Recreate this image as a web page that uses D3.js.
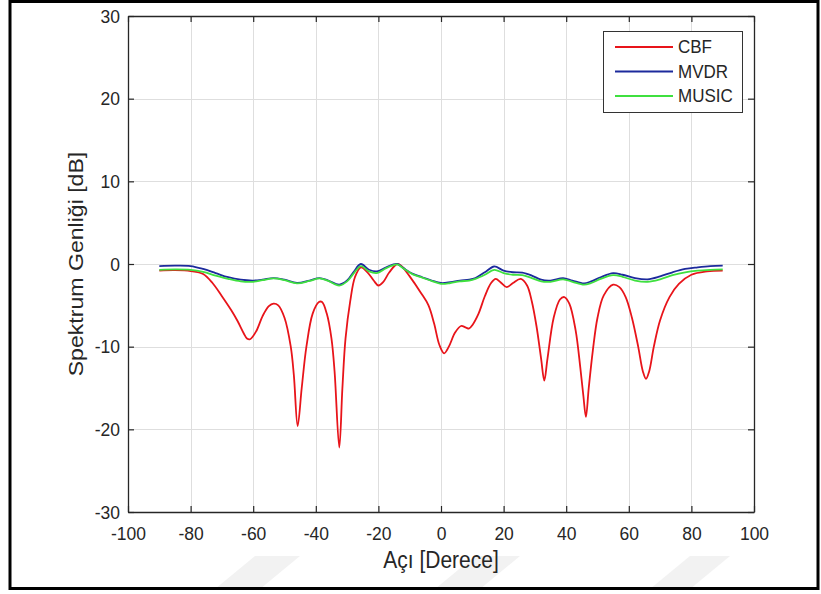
<!DOCTYPE html>
<html>
<head>
<meta charset="utf-8">
<script src="https://cdn.jsdelivr.net/npm/d3@7"></script>
<style>
  html, body { margin: 0; padding: 0; background: #fff; }
  svg { display: block; }
  text { font-family: "Liberation Sans", Arial, sans-serif; fill: #262626; }
</style>
</head>
<body>
<svg id="chart" width="821" height="594"></svg>
<script>
// ---------- data ----------
const xTicks = [-100, -80, -60, -40, -20, 0, 20, 40, 60, 80, 100];
const yTicks = [-30, -20, -10, 0, 10, 20, 30];
const seriesNames = ["CBF", "MVDR", "MUSIC"];
const seriesColors = ["#e8141a", "#1c2a9c", "#3fe03f"];

const cbfAngle = [-90,-85,-80,-76,-73,-70,-67,-65,-63,-62,-61,-59,-57,-55,-53.5,-52,-50,-48,-47,-45.8,-44.5,-43,-41,-39,-38,-36.5,-35,-34,-32.5,-31.5,-30.5,-29,-27.5,-25.6,-23.5,-21.5,-20,-18.5,-16.5,-14,-12.5,-10,-6.4,-4,-2.2,-0.5,1,2.5,4.5,6.4,8,9,10,12,14,16,17.5,19,21,23,25.5,27.5,29,30.5,32,33,34,36,38,39.4,41,43,44.5,45.5,46.3,47.2,48.5,50,52,55,57,59,61,63,64.5,65.5,66.5,68,70,73,76,80,85,90];
const cbfDb    = [-0.8,-0.75,-0.85,-1.2,-2.3,-3.9,-5.6,-6.9,-8.4,-9.0,-9.1,-8.1,-6.3,-5.1,-4.8,-5.0,-6.5,-10,-13.5,-19.6,-15,-10,-6,-4.6,-4.6,-6,-9,-13,-22.2,-15,-9,-4.5,-1.6,-0.4,-1.0,-2.0,-2.6,-2.2,-1.0,0,-0.3,-1.5,-3.5,-5.0,-7.2,-9.8,-10.8,-10.0,-8.3,-7.5,-7.7,-7.8,-7.4,-6.0,-3.9,-2.3,-1.8,-2.2,-2.8,-2.3,-1.8,-2.6,-4.5,-7.5,-11.5,-14.1,-11.5,-6.5,-4.3,-4.0,-4.8,-8.0,-12.5,-16,-18.5,-15,-10.5,-6.5,-3.8,-2.5,-2.8,-4.0,-6.5,-10,-13,-13.9,-13,-10,-6.8,-4.0,-2.4,-1.3,-0.9,-0.8];

const mvdrAngle = [-90,-85,-80,-76,-72,-68,-64,-60,-57,-53.5,-50,-46,-42,-38.8,-36,-32.5,-30,-28,-25.6,-23,-20.5,-17.5,-14,-12,-9,-6,-3,0,3,6,9,11,14,17,20,23,26,29,32,35,39,42,45.7,48,51,55,58,62,66,70,74,78,82,86,90];
const mvdrDb    = [-0.25,-0.2,-0.25,-0.6,-1.1,-1.6,-1.9,-2.0,-1.9,-1.7,-1.9,-2.3,-2.0,-1.7,-2.0,-2.5,-2.0,-1.0,0,-0.7,-0.9,-0.4,0,-0.5,-1.2,-1.6,-2.0,-2.3,-2.2,-2.0,-1.9,-1.7,-1.0,-0.3,-0.8,-1.0,-1.05,-1.4,-1.9,-2.0,-1.7,-2.0,-2.35,-2.1,-1.6,-1.1,-1.3,-1.7,-1.85,-1.5,-1.0,-0.6,-0.4,-0.25,-0.2];

const musicAngle = [-90,-85,-80,-76,-72,-68,-64,-60,-57,-53.5,-50,-46,-42,-38.8,-36,-32.5,-30,-28,-25.6,-23,-20.5,-17.5,-14,-12,-9,-6,-3,0,3,6,9,11,14,17,20,23,26,29,32,35,39,42,45.7,48,51,55,58,62,66,70,74,78,82,86,90];
const musicDb    = [-0.7,-0.65,-0.7,-0.95,-1.4,-1.8,-2.1,-2.15,-1.95,-1.75,-1.95,-2.35,-2.05,-1.75,-2.05,-2.6,-2.1,-1.2,-0.25,-0.9,-1.1,-0.5,-0.05,-0.55,-1.25,-1.65,-2.05,-2.4,-2.3,-2.1,-2.0,-1.8,-1.3,-0.7,-1.1,-1.3,-1.35,-1.7,-2.1,-2.15,-1.85,-2.15,-2.5,-2.3,-1.8,-1.35,-1.55,-2.0,-2.15,-1.85,-1.35,-1.0,-0.8,-0.7,-0.65];

const seriesData = [
  cbfAngle.map((a, i) => [a, cbfDb[i]]),
  mvdrAngle.map((a, i) => [a, mvdrDb[i]]),
  musicAngle.map((a, i) => [a, musicDb[i]])
];

// ---------- layout ----------
const svg = d3.select("#chart");
const L = 128, R = 754, T = 16, B = 512;
const SY = 1.1; // the reference's text looks slightly stretched vertically
const fmt = d => String(d); // plain hyphen-minus like MATLAB

// faint watermark shapes along the bottom
const wm = svg.append("g").attr("fill", "#f2f2f2");
[[0, 40], [215, 300], [435, 520], [650, 730]].forEach(([a, b]) => {
  wm.append("polygon").attr("points", `${a},589 ${b - 40},589 ${b},556 ${a + 40},556`);
});

// outer frame
svg.append("rect").attr("x", 10).attr("y", 1.5).attr("width", 808).attr("height", 587)
  .attr("fill", "none").attr("stroke", "#000").attr("stroke-width", 3);

const x = d3.scaleLinear().domain([-100, 100]).range([L, R]);
const y = d3.scaleLinear().domain([-30, 30]).range([B, T]);

// plot background
svg.append("rect").attr("x", L).attr("y", T).attr("width", R - L).attr("height", B - T).attr("fill", "#fff");

// grid
const grid = svg.append("g").attr("stroke", "#dedede").attr("stroke-width", 1);
xTicks.slice(1, -1).forEach(t => grid.append("line")
  .attr("x1", Math.round(x(t)) + 0.5).attr("x2", Math.round(x(t)) + 0.5).attr("y1", T).attr("y2", B));
yTicks.slice(1, -1).forEach(t => grid.append("line")
  .attr("y1", Math.round(y(t)) + 0.5).attr("y2", Math.round(y(t)) + 0.5).attr("x1", L).attr("x2", R));

// lines
const line = d3.line().x(d => x(d[0])).y(d => y(d[1])).curve(d3.curveCatmullRom.alpha(0.5));
svg.append("clipPath").attr("id", "clip").append("rect")
  .attr("x", L).attr("y", T).attr("width", R - L).attr("height", B - T);
const lines = svg.append("g").attr("clip-path", "url(#clip)");
seriesData.forEach((d, i) => {
  lines.append("path").datum(d).attr("d", line).attr("fill", "none")
    .attr("stroke", seriesColors[i]).attr("stroke-width", 1.8).attr("stroke-linejoin", "round");
});

// axes (box with inward ticks on all four sides)
const tickLen = 6;
const axB = svg.append("g").attr("transform", `translate(0,${B})`)
  .call(d3.axisBottom(x).tickValues(xTicks).tickSizeInner(-tickLen).tickSizeOuter(0).tickFormat(fmt));
const axT = svg.append("g").attr("transform", `translate(0,${T})`)
  .call(d3.axisTop(x).tickValues(xTicks).tickSizeInner(-tickLen).tickSizeOuter(0).tickFormat(""));
const axL = svg.append("g").attr("transform", `translate(${L},0)`)
  .call(d3.axisLeft(y).tickValues(yTicks).tickSizeInner(-tickLen).tickSizeOuter(0).tickPadding(8).tickFormat(fmt));
const axR = svg.append("g").attr("transform", `translate(${R},0)`)
  .call(d3.axisRight(y).tickValues(yTicks).tickSizeInner(-tickLen).tickSizeOuter(0).tickFormat(""));
[axB, axT, axL, axR].forEach(g => {
  g.selectAll(".domain").attr("stroke", "#262626").attr("stroke-width", 1.3);
  g.selectAll(".tick line").attr("stroke", "#262626").attr("stroke-width", 1.2);
  g.selectAll("text").attr("fill", "#262626").style("font-size", "17.5px")
    .style("font-family", "'Liberation Sans', Arial, sans-serif");
});
// bottom tick labels: baseline ~28px under the axis, slightly stretched
axB.selectAll(".tick text").attr("y", 0).attr("dy", null)
  .attr("transform", `translate(0,28) scale(1,${SY})`);
axL.selectAll(".tick text").attr("transform", `scale(1,${SY})`);

// axis titles
svg.append("text").attr("transform", `translate(${(L + R) / 2},568) scale(1,${SY})`)
  .attr("text-anchor", "middle").style("font-size", "21px").text("Açı [Derece]");
svg.append("text").attr("transform", `translate(83,${(T + B) / 2}) rotate(-90) scale(${SY},1)`)
  .attr("text-anchor", "middle").style("font-size", "21px").text("Spektrum Genliği [dB]");

// legend
const lg = svg.append("g");
lg.append("rect").attr("x", 603.5).attr("y", 31.5).attr("width", 139).attr("height", 81)
  .attr("fill", "#fff").attr("stroke", "#333").attr("stroke-width", 1);
seriesNames.forEach((n, i) => {
  const yy = 47 + i * 24.5;
  lg.append("line").attr("x1", 615).attr("x2", 673).attr("y1", yy).attr("y2", yy)
    .attr("stroke", seriesColors[i]).attr("stroke-width", 1.8);
  lg.append("text").attr("transform", `translate(678,${yy + 6}) scale(1,${SY})`)
    .style("font-size", "17px").text(n);
});
</script>
</body>
</html>
